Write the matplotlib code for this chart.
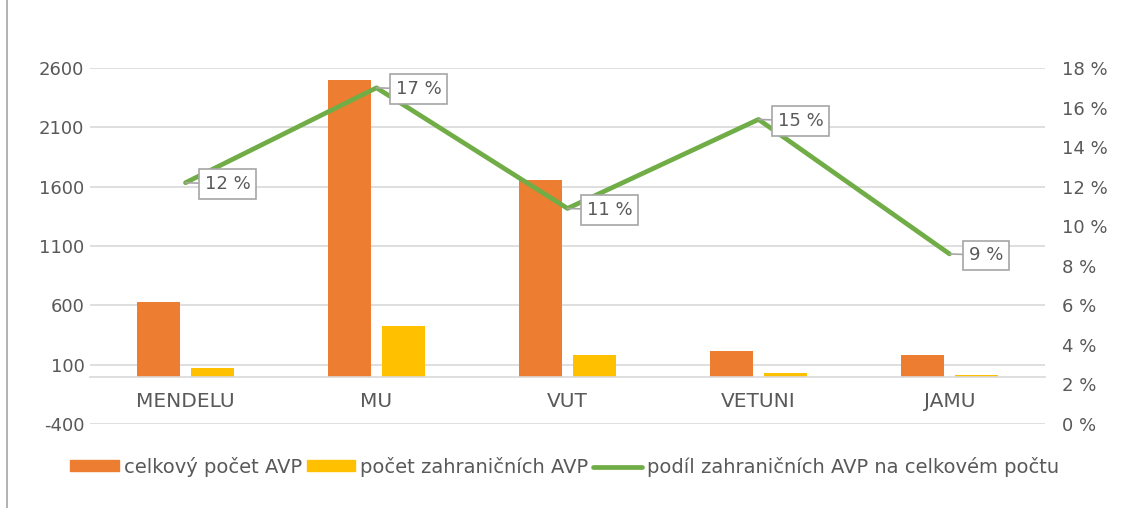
import matplotlib
matplotlib.use("Agg")
import matplotlib.pyplot as plt
from matplotlib.lines import Line2D
import numpy as np

plt.rcParams['font.family'] = ['DejaVu Sans']
plt.rcParams['axes.unicode_minus'] = False

categories = ["MENDELU", "MU", "VUT", "VETUNI", "JAMU"]
total_avp = [632, 2500, 1656, 215, 181]
foreign_avp = [72, 425, 181, 30, 13]
foreign_share = [12.2, 17.0, 10.9, 15.4, 8.6]

left_ticks = [-400, 100, 600, 1100, 1600, 2100, 2600]
right_ticks = list(range(0, 19, 2))

c_total = "#ED7D31"
c_foreign = "#FFC000"
c_share = "#70AD47"
c_text = "#595959"
c_grid = "#D9D9D9"
fs = 13      # numbers
fs_txt = 14.5  # category names

fig = plt.figure(figsize=(11.29, 5.08), dpi=100)
ax = fig.add_axes([0.0797, 0.1654, 0.8459, 0.7007])
x = np.arange(len(categories))
w = 0.225
ax.bar(x - 0.141, total_avp, w, color=c_total, zorder=2)
ax.bar(x + 0.141, foreign_avp, w, color=c_foreign, zorder=2)

ax.set_xlim(-0.5, len(categories) - 0.5)
ax.set_ylim(-400, 2600)
ax.set_yticks(left_ticks)
ax.yaxis.grid(True, color=c_grid, lw=1.2)
ax.set_axisbelow(True)
for s in ["top", "left", "right"]:
    ax.spines[s].set_visible(False)
ax.spines["bottom"].set_position(("data", 0))
ax.spines["bottom"].set_color(c_grid)
ax.spines["bottom"].set_linewidth(1.2)
ax.set_xticks(x)
ax.set_xticklabels(categories)
ax.tick_params(axis="x", length=0, pad=11, labelsize=fs_txt, colors=c_text)
ax.tick_params(axis="y", length=0, pad=4, labelsize=fs, colors=c_text)

ax2 = ax.twinx()
ax2.set_ylim(0, 18)
ax2.set_yticks(right_ticks)
ax2.set_yticklabels([f"{t} %" for t in right_ticks])
ax2.tick_params(axis="y", length=0, pad=12, labelsize=fs, colors=c_text)
for s in ax2.spines.values():
    s.set_visible(False)
ax2.plot(x, foreign_share, color=c_share, lw=3.4, solid_capstyle="round", zorder=3)

for xi, v in zip(x, foreign_share):
    ax2.annotate(f"{v:.0f} %", xy=(xi, v), xytext=(14, -1), textcoords="offset points",
                 ha="left", va="center", fontsize=fs, color=c_text,
                 bbox=dict(boxstyle="square,pad=0.32", fc="white", ec="#A6A6A6", lw=1.2),
                 arrowprops=dict(arrowstyle="-", color="#A6A6A6", lw=1.2,
                                 shrinkA=0, shrinkB=0))

handles = [
    plt.Rectangle((0, 0), 1, 1, color=c_total),
    plt.Rectangle((0, 0), 1, 1, color=c_foreign),
    Line2D([0], [0], color=c_share, lw=3.4, solid_capstyle="round"),
]
labels = ["celkový počet AVP", "počet zahraničních AVP",
          "podíl zahraničních AVP na celkovém počtu"]
fig.legend(handles, labels, loc="center", bbox_to_anchor=(0.5, 0.081), ncol=3,
           frameon=False, fontsize=14, labelcolor=c_text, handlelength=2.5,
           handleheight=0.5, handletextpad=0.25, columnspacing=0.25)

fig.add_artist(Line2D([7 / 1129, 7 / 1129], [0, 1], color="#A6A6A6", lw=1.2))

fig.savefig("out.png", dpi=100)
